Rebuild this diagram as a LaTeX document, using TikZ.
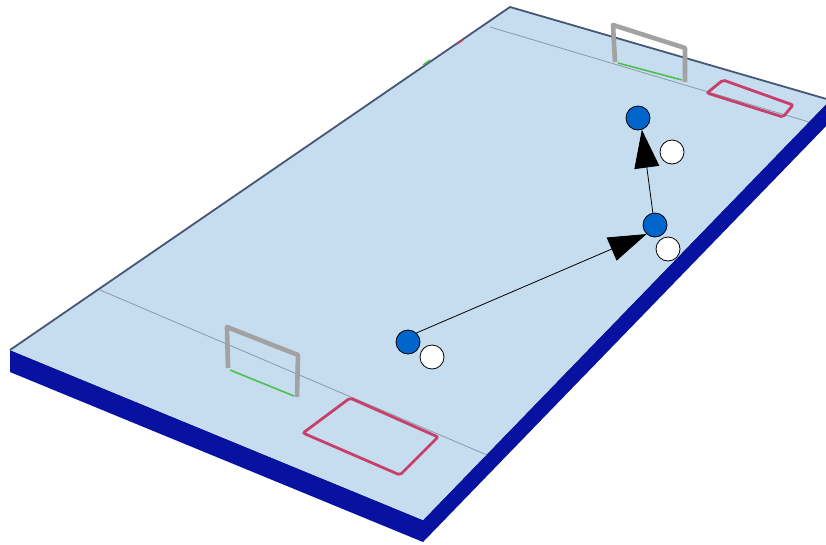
\documentclass[tikz,border=0pt]{standalone}
\usepackage{tikz}
\usetikzlibrary{arrows.meta, calc}
\definecolor{fieldBlue}{HTML}{C6DDF0}
\definecolor{sideBlue}{HTML}{0812A0}
\definecolor{edgeGrey}{HTML}{465674}
\definecolor{lineGrey}{HTML}{8A98A8}
\definecolor{goalGrey}{HTML}{A2A2A2}
\definecolor{goalGreen}{HTML}{4CC04C}
\definecolor{boxRed}{HTML}{C8406A}
\definecolor{playerBlue}{HTML}{0066CC}

\begin{document}
\begin{tikzpicture}[x=1pt, y=-1pt,
  player/.style={circle, draw=black, line width=0.8pt,
                 minimum size=24pt, inner sep=0pt},
  blueplayer/.style={player, fill=playerBlue},
  whiteplayer/.style={player, fill=white},
  pass/.style={line width=0.8pt, -{Triangle[length=38pt, width=25pt]}},
  goalframe/.style={goalGrey, line width=4.6pt, line join=round},
  goalline/.style={goalGreen, line width=1.6pt},
  area/.style={boxRed, line width=2.8pt, rounded corners=2pt}
]
\useasboundingbox (0,0) rectangle (826,544);

% pitch corners and slab thickness
\coordinate (L) at (10,350);
\coordinate (T) at (510,7);
\coordinate (R) at (830,100);
\coordinate (B) at (423,520);

% sides of the slab
\fill[sideBlue] (L) -- (B) -- (R) -- ++(0,22) -- ($(B)+(0,22)$) -- ($(L)+(0,22)$) -- cycle;
\fill[fieldBlue] (L) -- (T) -- (R) -- (B) -- cycle;
\draw[edgeGrey, line width=1.8pt, line join=round] (L) -- (T) -- (R);

% little marks on the far side line
\draw[boxRed, line width=1.5pt] (457,44) -- (463,40);
\draw[goalGreen, line width=1.5pt] (423,65) -- (430,60);

% goal lines
\draw[lineGrey, line width=0.8pt] (490,27) -- (809,122);
\draw[lineGrey, line width=0.8pt] (100,290) -- (487,455);

% penalty areas
\draw[area] (350,398) -- (438,437) -- (400,475) -- (303,433) -- cycle;
\draw[area] (723,80) -- (793,105) -- (783,117) -- (707,93) -- cycle;

% goals
\draw[goalline] (230,370) -- (294,396);
\draw[goalframe] (228,368) -- (227,327) -- (298,355) -- (297,397);
\draw[goalline] (618,63) -- (682,80);
\draw[goalframe] (615,62) -- (613,25) -- (685,48) -- (685,82);

% players
\node[blueplayer]  (b1) at (408,342) {};
\node[whiteplayer] (w1) at (432,357) {};
\node[whiteplayer] (w2) at (668,249) {};
\node[blueplayer]  (b2) at (655,225) {};
\node[blueplayer]  (b3) at (638,118) {};
\node[whiteplayer] (w3) at (672,152) {};

% passes
\draw[pass] (b1.47) -- (b2.227);
\draw[pass] (b2.100) -- (b3.288);
\end{tikzpicture}
\end{document}
